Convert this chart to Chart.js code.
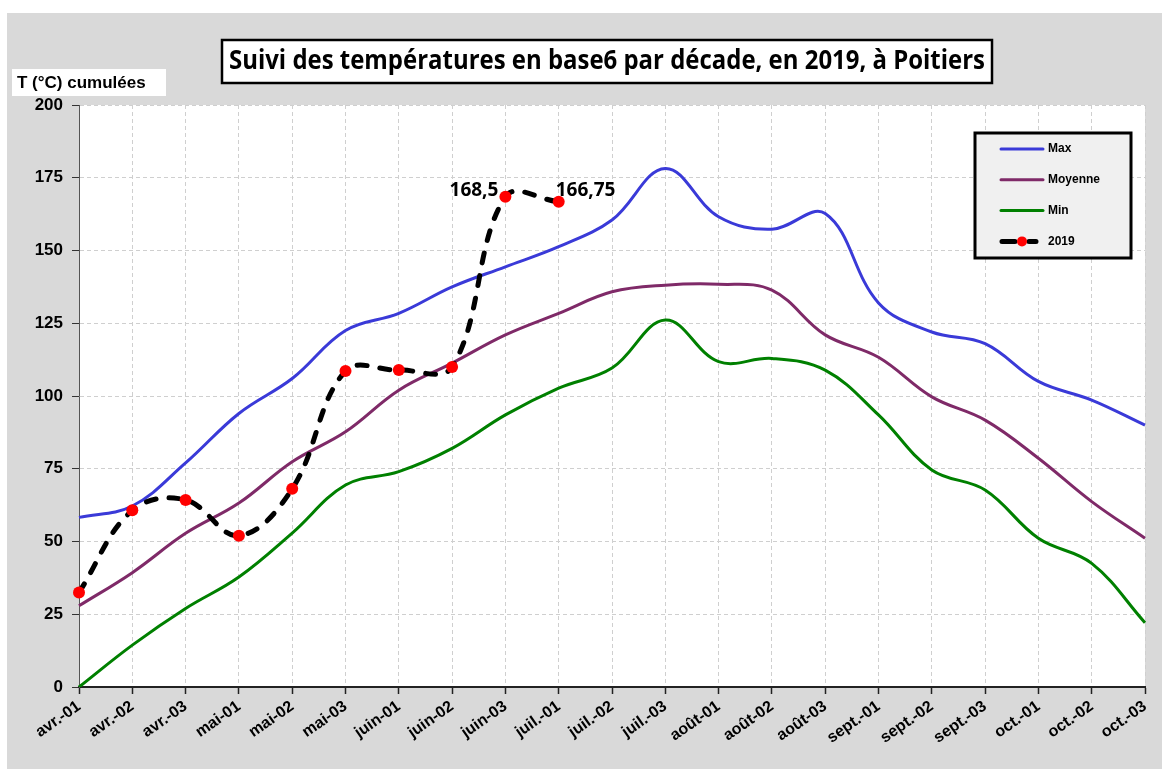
<!DOCTYPE html>
<html lang="fr">
<head>
<meta charset="utf-8">
<title>Suivi des températures en base6 par décade, en 2019, à Poitiers</title>
<script src="https://cdn.jsdelivr.net/npm/chart.js@4.4.1/dist/chart.umd.min.js"></script>
<style>
  html, body { margin: 0; padding: 0; background: #fff; }
  #wrap { width: 1162px; height: 769px; }
</style>
</head>
<body>
<div id="wrap"><canvas id="chart" width="1162" height="769"></canvas></div>
<script>
// Decades (x axis)
const decades = [
  "avr.-01", "avr.-02", "avr.-03", "mai-01", "mai-02", "mai-03",
  "juin-01", "juin-02", "juin-03", "juil.-01", "juil.-02", "juil.-03",
  "août-01", "août-02", "août-03", "sept.-01", "sept.-02", "sept.-03",
  "oct.-01", "oct.-02", "oct.-03"
];

// Cumulated temperatures (base 6) per decade
const maxValues = [58.3, 62.2, 77, 94, 106, 122.5, 128.4, 137.5, 144.4, 151.3, 160.5,
  178.2, 161.6, 157.3, 162.7, 132, 122, 118, 105, 98.6, 90];
const meanValues = [27.9, 39.3, 52.8, 63.2, 77.4, 87.7, 102, 111.3, 121, 128.4, 135.8,
  138.1, 138.4, 136.4, 121, 113.3, 99.7, 91.7, 78.6, 63.7, 51.1];
const minValues = [0, 14.4, 27, 37.8, 52.9, 69.4, 74, 82, 93.5, 102.7, 109.6,
  126.1, 111.8, 112.9, 108.9, 93.5, 74.6, 67.7, 51.1, 42.5, 22.1];
const values2019 = [32.5, 60.7, 64.3, 52, 68.1, 108.6, 108.9, 110, 168.5, 166.75];

// Points of 2019 that carry a value label
const labelledPoints = [8, 9];

const yTicks = [0, 25, 50, 75, 100, 125, 150, 175, 200];

const chartTitle = "Suivi des températures en base6 par décade, en 2019, à Poitiers";
const yTitle = "T (°C) cumulées";

const bgPlugin = {
  id: "bg",
  beforeDraw(chart) {
    const { ctx, width, height, chartArea: a } = chart;
    ctx.save();
    ctx.fillStyle = "#ffffff";
    ctx.fillRect(0, 0, width, height);
    ctx.fillStyle = "#d9d9d9";
    ctx.fillRect(7, 13, width - 7, height - 13);
    ctx.fillStyle = "#ffffff";
    ctx.fillRect(a.left, a.top, a.right - a.left, a.bottom - a.top);
    ctx.restore();
  }
};

// Title box, axis title, legend box and the two value labels
const decorPlugin = {
  id: "decor",
  afterDraw(chart) {
    const ctx = chart.ctx;
    ctx.save();

    // title
    ctx.fillStyle = "#fff";
    ctx.fillRect(222, 40, 770, 43);
    ctx.strokeStyle = "#000";
    ctx.lineWidth = 2.5;
    ctx.strokeRect(222, 40, 770, 43);
    ctx.font = "bold 26px 'Open Sans'";
    ctx.fillStyle = "#000";
    ctx.textBaseline = "middle";
    ctx.textAlign = "center";
    const tw = ctx.measureText(chartTitle).width;
    const sx = Math.min(1, 756 / tw);
    ctx.save();
    ctx.translate(607, 62);
    ctx.scale(sx, 1);
    ctx.fillText(chartTitle, 0, 0);
    ctx.restore();

    // y axis title
    ctx.fillStyle = "#fff";
    ctx.fillRect(12, 69, 154, 27);
    ctx.fillStyle = "#000";
    ctx.font = "bold 17px 'Liberation Sans'";
    ctx.textAlign = "left";
    ctx.fillText(yTitle, 17, 83);

    // legend
    ctx.fillStyle = "#f0f0f0";
    ctx.fillRect(975, 133, 156, 125);
    ctx.lineWidth = 3;
    ctx.strokeStyle = "#000";
    ctx.strokeRect(975, 133, 156, 125);
    ctx.font = "bold 12px 'Liberation Sans'";
    chart.data.datasets.forEach((ds, i) => {
      const y = 149 + i * 30.8;
      ctx.lineCap = "round";
      ctx.strokeStyle = ds.borderColor;
      if (ds.pointRadius > 0) {
        ctx.lineWidth = 5;
        ctx.beginPath();
        ctx.moveTo(1002, y); ctx.lineTo(1015, y);
        ctx.moveTo(1029, y); ctx.lineTo(1036, y);
        ctx.stroke();
        ctx.fillStyle = ds.pointBackgroundColor;
        ctx.beginPath();
        ctx.arc(1022, y, 5, 0, Math.PI * 2);
        ctx.fill();
      } else {
        ctx.lineWidth = 3;
        ctx.beginPath();
        ctx.moveTo(1001, y); ctx.lineTo(1043, y);
        ctx.stroke();
      }
      ctx.fillStyle = "#000";
      ctx.fillText(ds.label, 1048, y);
    });

    // value labels on 2019
    const idx = chart.data.datasets.findIndex((d) => d.label === "2019");
    const meta = chart.getDatasetMeta(idx);
    ctx.font = "bold 19px 'Open Sans'";
    labelledPoints.forEach((p, k) => {
      const pt = meta.data[p];
      const txt = String(values2019[p]).replace(".", ",");
      if (k === 0) {
        ctx.textAlign = "right";
        ctx.fillText(txt, pt.x - 7, pt.y - 6);
      } else {
        ctx.textAlign = "left";
        ctx.fillText(txt, pt.x - 3, pt.y - 11);
      }
    });
    ctx.restore();
  }
};

const tickFont = { family: "'Liberation Sans'", weight: "bold", size: 16 };

new Chart(document.getElementById("chart"), {
  type: "line",
  data: {
    labels: decades,
    datasets: [
      { label: "Max", data: maxValues, borderColor: "#3a3ad8", borderWidth: 3, pointRadius: 0, tension: 0.38, order: 1 },
      { label: "Moyenne", data: meanValues, borderColor: "#7f2a68", borderWidth: 3, pointRadius: 0, tension: 0.38, order: 1 },
      { label: "Min", data: minValues, borderColor: "#008000", borderWidth: 3, pointRadius: 0, tension: 0.38, order: 1 },
      {
        label: "2019", data: values2019, borderColor: "#000", borderWidth: 5,
        borderDash: [10, 13], borderCapStyle: "round",
        pointRadius: 6, pointBackgroundColor: "#ff0000", pointBorderWidth: 0,
        tension: 0.38, order: 0
      }
    ]
  },
  options: {
    responsive: false,
    animation: false,
    layout: { padding: { left: 7, right: 17, top: 105, bottom: 0 } },
    plugins: {
      legend: { display: false },
      title: { display: false },
      tooltip: { enabled: false }
    },
    scales: {
      x: {
        offset: false,
        grid: { offset: false, color: "#cfcfcf", tickColor: "#222", tickLength: 7, tickWidth: 1.5, tickBorderDash: [] },
        border: { color: "#222", width: 2, dash: [4, 3] },
        ticks: { color: "#000", font: tickFont, minRotation: 35, maxRotation: 35, autoSkip: false, padding: 3 },
        afterFit(scale) { scale.height = 82; }
      },
      y: {
        min: 0,
        max: 200,
        afterBuildTicks(scale) { scale.ticks = yTicks.map((v) => ({ value: v })); },
        grid: { color: "#cfcfcf", tickColor: "#333", tickLength: 7, tickBorderDash: [] },
        border: { color: "#555", width: 1, dash: [4, 3] },
        ticks: { color: "#000", font: { family: "'Liberation Sans'", weight: "bold", size: 17 }, padding: 9 },
        afterFit(scale) { scale.width = 72; }
      }
    }
  },
  plugins: [bgPlugin, decorPlugin]
});
</script>
</body>
</html>
